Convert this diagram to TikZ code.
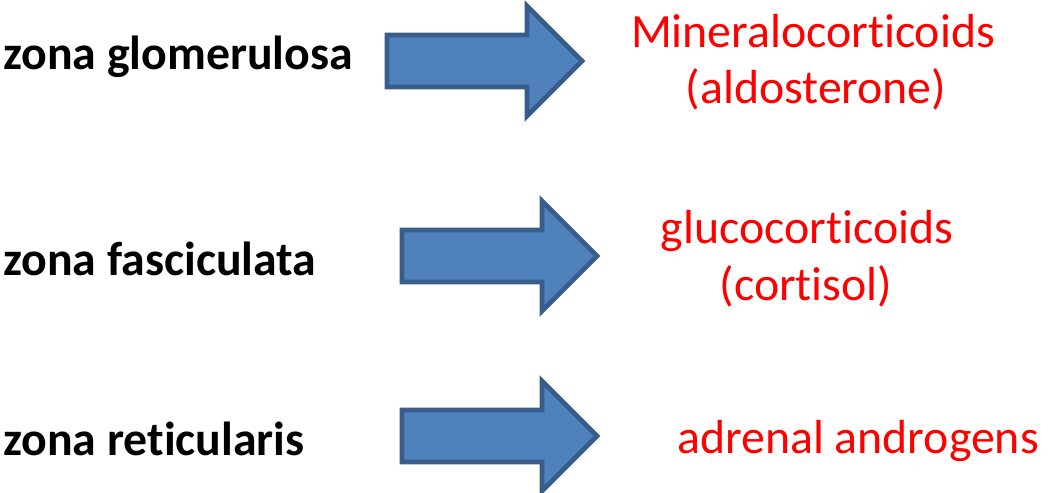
\documentclass[tikz,border=0pt]{standalone}
\usepackage{fontspec}
\setmainfont{Carlito}[Ligatures=NoCommon]
\definecolor{arrowfill}{HTML}{4F81BD}
\definecolor{arrowline}{HTML}{385D8A}

\begin{document}
\begin{tikzpicture}[x=0.5pt,y=-0.5pt,
	zone/.style={anchor=base west, inner sep=0pt, font=\bfseries\fontsize{23.9}{28}\selectfont},
	hormone/.style={anchor=base, inner sep=0pt, text=red, font=\fontsize{23.9}{28}\selectfont},
	blockarrow/.style={draw=arrowline, fill=arrowfill, line width=2.4pt, line join=miter}]
	\useasboundingbox (0,0) rectangle (1048,492);
	
	% Block arrows: left end / tip / centre line
	\foreach \l/\t/\c in {387/582/61, 402/597/256, 402/597/436}
		\draw[blockarrow] (\l,\c-26) -- (\t-55,\c-26) -- (\t-55,\c-55) -- (\t,\c)
			-- (\t-55,\c+55) -- (\t-55,\c+26) -- (\l,\c+26) -- cycle;
	
	% Zones of the adrenal cortex
	\node[zone] (glom) at (3,69) {zona glomerulosa};
	\node[zone] (fasc) at (3,275) {zona fasciculata};
	\node[zone] (reti) at (3,455) {zona reticularis};
	
	% Hormones made by each zone
	\node[hormone] (mineral) at (813,48) {Mineralocorticoids};
	\node[hormone] (aldo) at (816,104) {(aldosterone)};
	\node[hormone] (gluco) at (807,243) {glucocorticoids};
	\node[hormone] (cort) at (806,300) {(cortisol)};
	\node[hormone] (andro) at (858,453) {adrenal androgens};
	
\end{tikzpicture}
\end{document}
